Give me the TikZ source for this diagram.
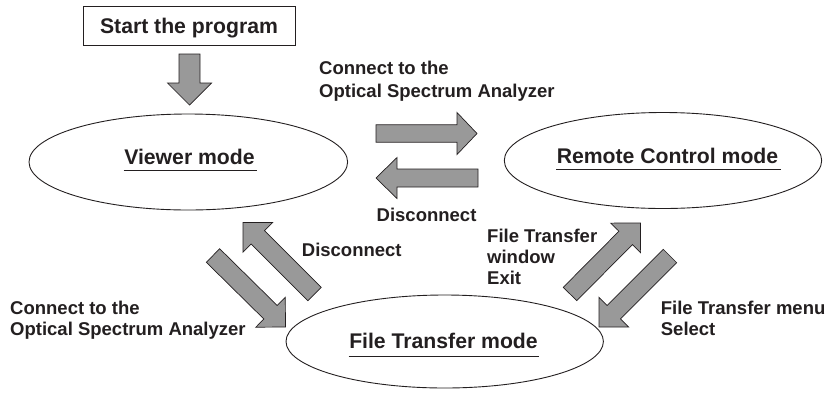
\documentclass[tikz,border=0pt]{standalone}
\usepackage{fontspec}
\setmainfont{Liberation Sans}
\usetikzlibrary{shapes.geometric,calc}
\definecolor{arrowgray}{RGB}{153,153,153}
\definecolor{inkblack}{RGB}{35,31,32}
\tikzset{
  modeellipse/.style={draw=inkblack, ellipse, line width=0.9pt, inner sep=0pt},
  modetext/.style={font=\fontsize{21.2}{24}\selectfont\bfseries, text=inkblack, inner sep=0pt, anchor=base},
  lbl/.style={font=\fontsize{18.5}{21}\selectfont\bfseries, text=inkblack, inner sep=0pt, anchor=base west},
  blockarrow/.style={fill=arrowgray, draw=inkblack, line width=0.7pt, line join=miter},
  uline/.style={draw=inkblack, line width=0.9pt}
}
\newcommand\lb[1]{\begin{tabular}[t]{@{}l@{}}#1\end{tabular}}
% from, to, shaft half width, head half width, head length, name of head base
\newcommand\blockarr[6]{%
  \coordinate (#6) at ($(#2)!#5!(#1)$);
  \draw[blockarrow] ($(#1)!#3!90:(#2)$) -- ($(#6)!#3!90:(#2)$) -- ($(#6)!#4!90:(#2)$) -- (#2)
    -- ($(#6)!#4!-90:(#2)$) -- ($(#6)!#3!-90:(#2)$) -- ($(#1)!#3!-90:(#2)$) -- cycle;
}
\begin{document}
\begin{tikzpicture}[x=1pt,y=-1pt]
\useasboundingbox (0,0) rectangle (831,392);

% start box
\node[draw=inkblack, line width=0.8pt, minimum width=212pt, minimum height=39pt, inner sep=0pt,
      text height=15.6pt, text depth=0pt, text=inkblack,
      font=\fontsize{21.2}{24}\selectfont\bfseries] (start) at (189,25.5) {Start the program};

% mode ellipses
\node[modeellipse, minimum width=318.6pt, minimum height=96pt] (viewer) at (188.3,162) {};
\node[modeellipse, minimum width=317.4pt, minimum height=96pt] (remote) at (663,160.5) {};
\node[modeellipse, minimum width=317.4pt, minimum height=93pt] (ftm) at (444.7,341.5) {};

\node[modetext] (viewerlbl) at (189.5,164.5) {Viewer mode};
\draw[uline] ($(viewerlbl.base west)+(-0.5,5.5)$) -- ($(viewerlbl.base east)+(2.5,5.5)$);
\node[modetext] (remotelbl) at (667.5,163.5) {Remote Control mode};
\draw[uline] ($(remotelbl.base west)+(-0.5,5.5)$) -- ($(remotelbl.base east)+(2.5,5.5)$);
\node[modetext] (ftmlbl) at (443.5,348) {File Transfer mode};
\draw[uline] ($(ftmlbl.base west)+(-0.5,8.5)$) -- ($(ftmlbl.base east)+(1.5,8.5)$);

% arrow end points
\coordinate (s0) at (189.5,54);   \coordinate (s1) at (189.5,105);
\coordinate (c0) at (376,133.5);  \coordinate (c1) at (477,133.5);
\coordinate (d0) at (478,178);    \coordinate (d1) at (376,178);
\coordinate (e0) at (314.5,294);  \coordinate (e1) at (243,222.5);
\coordinate (f0) at (213,255.5);  \coordinate (f1) at (285.5,327);
\coordinate (g0) at (570,294);    \coordinate (g1) at (640.5,223);
\coordinate (h0) at (670,256);    \coordinate (h1) at (599,327);

\blockarr{s0}{s1}{10.5pt}{22pt}{22pt}{sh}
\blockarr{c0}{c1}{8.7pt}{21pt}{20pt}{ch}
\blockarr{d0}{d1}{9pt}{20.5pt}{21pt}{dh}
\blockarr{e0}{e1}{9.5pt}{21pt}{21pt}{eh}
\blockarr{f0}{f1}{9.5pt}{21pt}{21pt}{fh}
\blockarr{g0}{g1}{9.5pt}{21pt}{21pt}{gh}
\blockarr{h0}{h1}{9.5pt}{21pt}{21pt}{hh}

% labels
\node[lbl] (l1) at (319,74) {\lb{Connect to the\\[2pt]Optical Spectrum Analyzer}};
\node[lbl] (l2) at (376.5,221) {Disconnect};
\node[lbl] (l3) at (301.7,256.7) {Disconnect};
\node[lbl] (l4) at (487,242) {\lb{File Transfer\\window\\Exit}};
\node[lbl] (l5) at (10,314.5) {\lb{Connect to the\\Optical Spectrum Analyzer}};
\node[lbl] (l6) at (660.7,314) {\lb{File Transfer menu\\Select}};
\end{tikzpicture}
\end{document}
